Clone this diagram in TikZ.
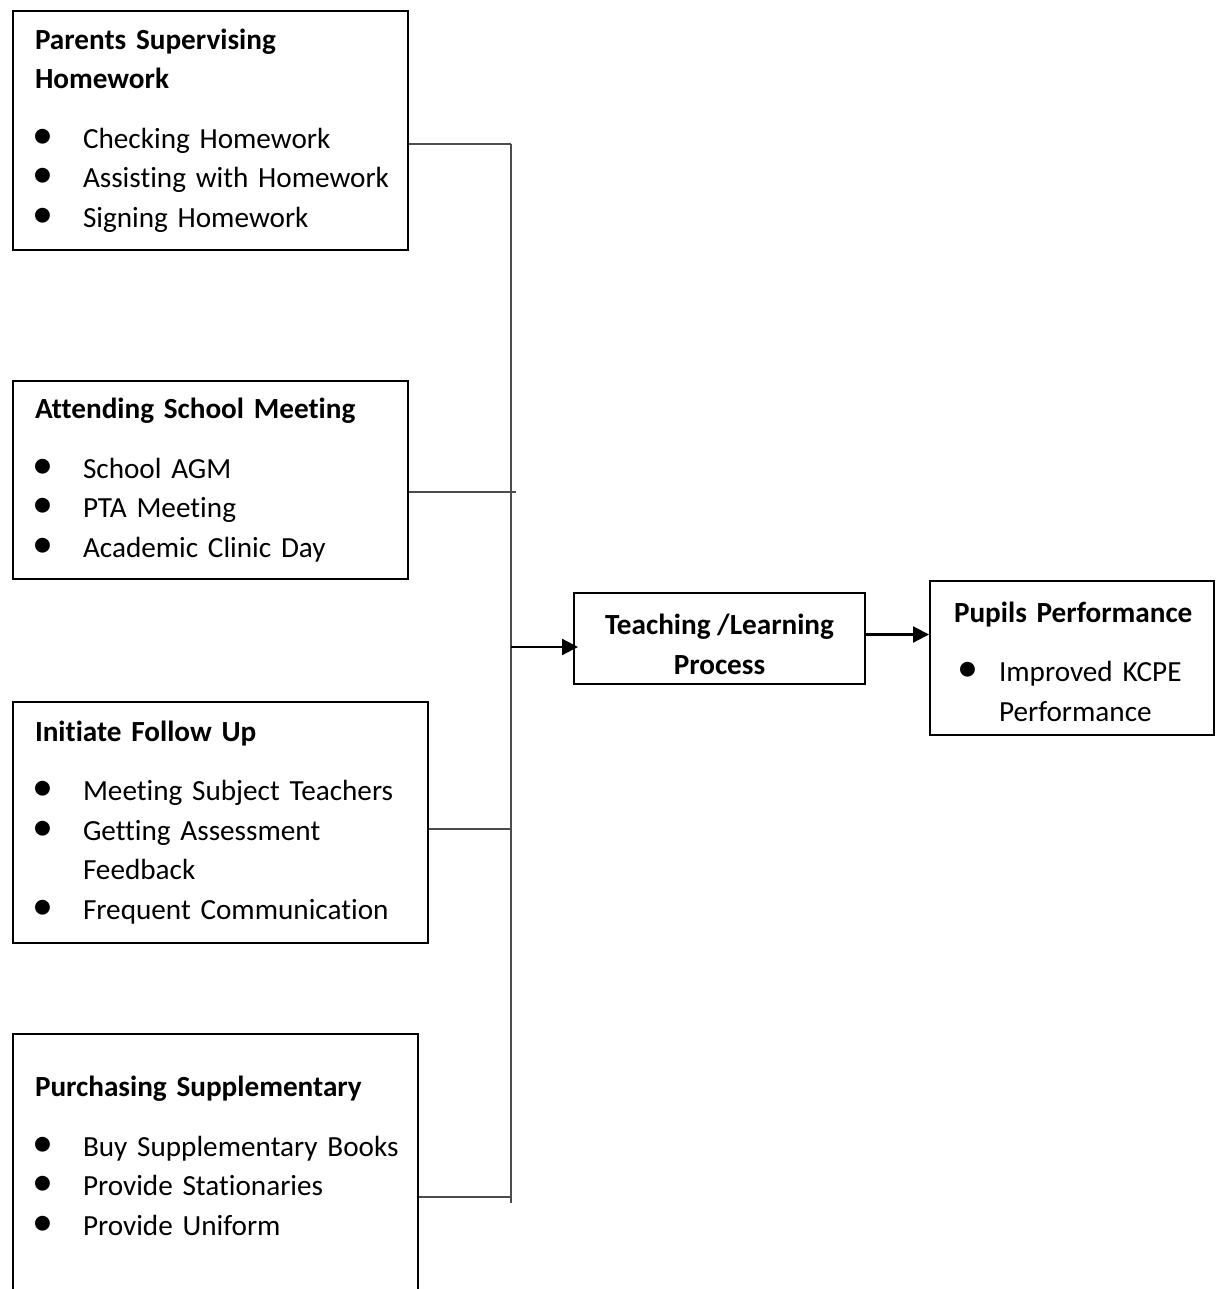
\documentclass[tikz,border=0pt]{standalone}
\usepackage{fontspec}
\setmainfont{Carlito}[Ligatures={NoCommon}]
\usetikzlibrary{arrows.meta}

% bullet line for the boxes
\newcommand{\bitem}[2][24pt]{\mbox{\makebox[#1][l]{\hspace{-1.5pt}{\fontsize{21}{10}\selectfont\textbullet}}#2}}

\begin{document}
\begin{tikzpicture}[
    x=0.5pt, y=-0.5pt,
    box/.style={draw, line width=1pt, anchor=north west, align=left, inner xsep=11pt,
        font=\fontsize{14.6}{19.75}\selectfont},
    midbox/.style={draw, line width=1pt, align=center, font=\fontsize{14.6}{19.75}\selectfont\bfseries},
    bus/.style={draw=black!70, line width=0.6pt},
    arrow/.style={-{Triangle[length=8pt,width=8pt]}, line width=1.1pt}
]
    \useasboundingbox (0,0) rectangle (1220,1289);
    \clip (0,0) rectangle (1220,1289);

    % Parental involvement boxes
    \node[box, minimum width=197.5pt, minimum height=119.5pt, text width=175.5pt] (homework) at (12,10) {
        \textbf{Parents Supervising}\\\textbf{Homework}\\[10pt]
        \bitem{Checking Homework}\\
        \bitem{Assisting with Homework}\\
        \bitem{Signing Homework}};
    \node[box, minimum width=197.5pt, minimum height=99pt, text width=175.5pt] (meeting) at (12,380) {
        \mbox{\textbf{Attending School Meeting}}\\[10pt]
        \bitem{School AGM}\\
        \bitem{PTA Meeting}\\
        \bitem{Academic Clinic Day}};
    \node[box, minimum width=207.5pt, minimum height=120.5pt, text width=185.5pt] (followup) at (12,701) {
        \textbf{Initiate Follow Up}\\[10pt]
        \bitem{Meeting Subject Teachers}\\
        \bitem{Getting Assessment}\\\hspace*{24pt}Feedback\\
        \bitem{Frequent Communication}};
    \node[box, minimum width=202.5pt, text width=180.5pt] (purchase) at (12,1033) {
        \rule{0pt}{28pt}\mbox{\textbf{Purchasing Supplementary}}\\[10pt]
        \bitem{Buy Supplementary Books}\\
        \bitem{Provide Stationaries}\\
        \bitem{Provide Uniform}\\[60pt]\mbox{}};

    % Process and outcome
    \node[midbox, minimum width=145.5pt, minimum height=45.5pt] (teaching) at (719.5,638.5) {\rule{0pt}{16pt}Teaching /Learning\\Process};
    \node[box, minimum width=142pt, minimum height=77pt, text width=118pt, inner xsep=12pt] (pupils) at (929,580) {
        \rule{0pt}{14pt}\mbox{\textbf{Pupils Performance}}\\[10pt]
        \hspace*{3pt}\bitem[19.5pt]{Improved KCPE}\\\hspace*{22.5pt}Performance};

    % Bus line
    \coordinate (b1) at (511,144);
    \coordinate (b2) at (511,492);
    \coordinate (b3) at (511,829);
    \coordinate (b4) at (511,1197);
    \coordinate (bend) at (511,1203);
    \coordinate (bmid) at (511,647);
    \draw[bus] (b1) -- (bend);
    \draw[bus] (homework.east |- b1) -- (b1);
    \draw[bus] (meeting.east |- b2) -- ([xshift=2.5pt]b2);
    \draw[bus] (followup.east |- b3) -- (b3);
    \draw[bus] (purchase.east |- b4) -- (b4);

    % Arrows
    \draw[arrow, shorten >=-2.5pt] (bmid) -- (teaching.west |- bmid);
    \draw[arrow] ([yshift=2pt]teaching.east) -- ([yshift=2pt]teaching.east -| pupils.west);
\end{tikzpicture}
\end{document}
